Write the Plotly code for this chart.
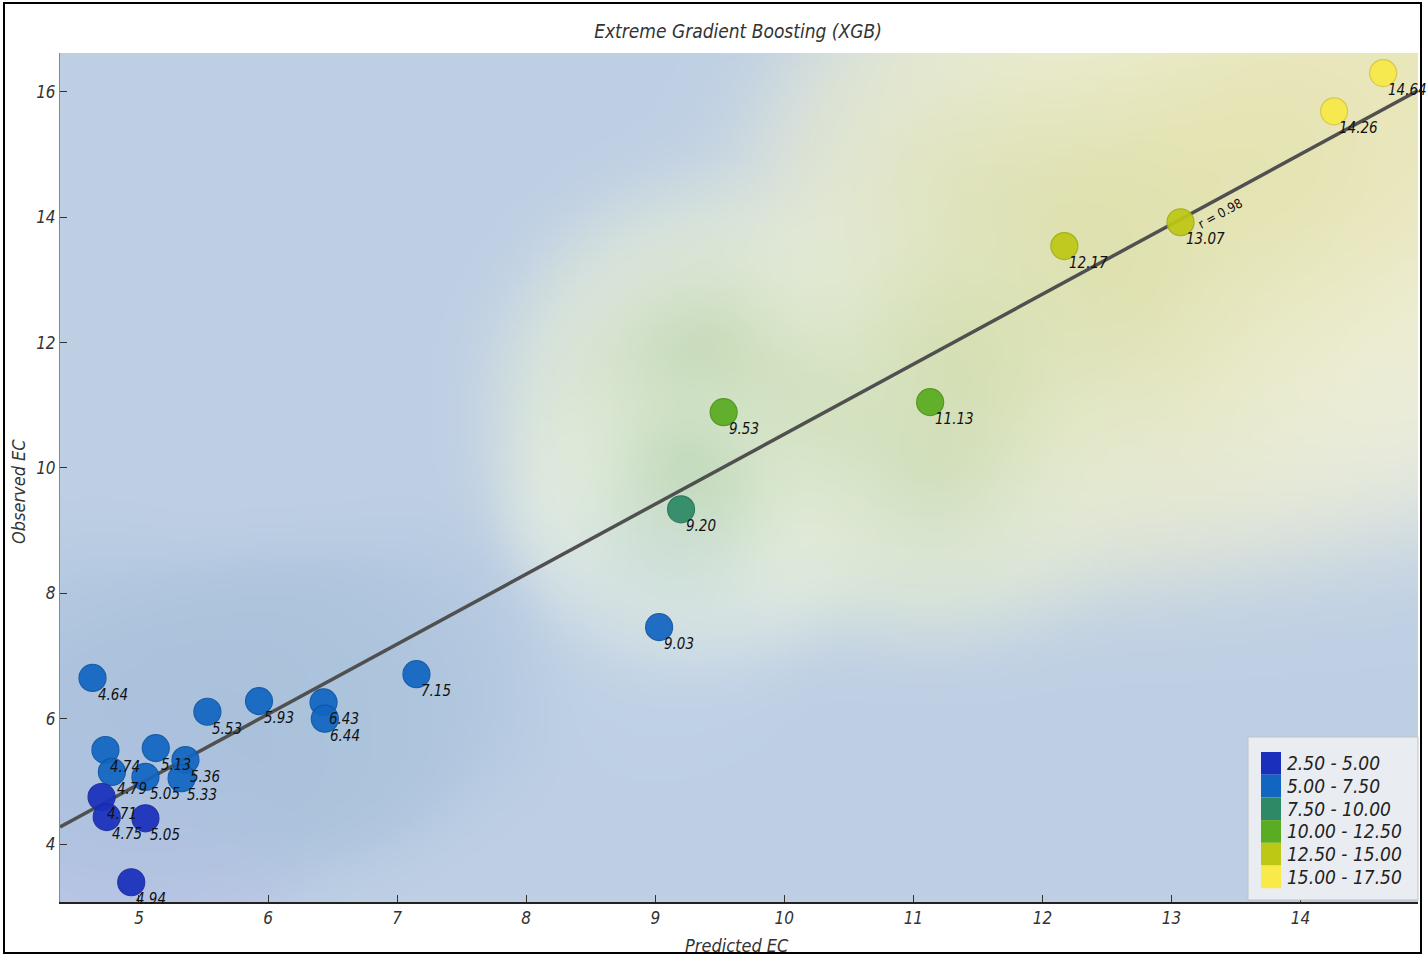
import numpy as np
import plotly.graph_objects as go

# ---------------- data ----------------
predicted = [4.64, 4.74, 4.79, 4.71, 4.75, 5.05, 5.05, 4.94, 5.13, 5.36, 5.33, 5.53,
             5.93, 6.43, 6.44, 7.15, 9.03, 9.20, 9.53, 11.13, 12.17, 13.07, 14.26, 14.64]
observed = [6.65, 5.50, 5.15, 4.75, 4.43, 5.07, 4.41, 3.39, 5.53, 5.34, 5.05, 6.11,
            6.28, 6.26, 6.00, 6.71, 7.46, 9.34, 10.89, 11.05, 13.54, 13.92, 15.69, 16.30]
point_labels = ["4.64", "4.74", "4.79", "4.71", "4.75", "5.05", "5.05", "4.94", "5.13", "5.36",
                "5.33", "5.53", "5.93", "6.43", "6.44", "7.15", "9.03", "9.20", "9.53", "11.13",
                "12.17", "13.07", "14.26", "14.64"]
bin_edges = [2.5, 5.0, 7.5, 10.0, 12.5, 15.0, 17.5]
bin_labels = ["2.50 - 5.00", "5.00 - 7.50", "7.50 - 10.00", "10.00 - 12.50",
              "12.50 - 15.00", "15.00 - 17.50"]
bin_colors = ["#1a30bc", "#1266c2", "#2e8a66", "#5aac22", "#bdc814", "#f8ea48"]
bin_edge_colors = ["#1a2aa0", "#0f56a6", "#267556", "#4a931c", "#a4ad10", "#d6c840"]
x_ticks = [5, 6, 7, 8, 9, 10, 11, 12, 13, 14]
y_ticks = [4, 6, 8, 10, 12, 14, 16]
x_range = [4.388, 14.91]
y_range = [3.075, 16.62]
# background shading: colour of the surface around a point of a given value
halo_stops = [(3.3, (208, 202, 238)), (4.5, (172, 193, 223)), (6.0, (166, 191, 217)),
              (7.0, (180, 201, 224)), (8.0, (205, 220, 236)), (9.3, (196, 224, 200)),
              (10.9, (180, 209, 142)), (12.5, (198, 208, 128)), (13.9, (206, 208, 112)),
              (15.0, (238, 234, 178)), (16.3, (240, 230, 168))]
bg_rgb = (190, 207, 228)
rim_rgb = (246, 247, 238)

# ---------------- layout geometry ----------------
W, H = 1428, 957
ML, MR, MT, MB = 60, 10, 53, 55
PW, PH = W - ML - MR, H - MT - MB
sx = PW / (x_range[1] - x_range[0])
sy = PH / (y_range[1] - y_range[0])

px_ = np.array(predicted)
ob_ = np.array(observed)

# ---------------- background surface: colour blend of smooth halos ----------------
NX, NY = 400, 260
dxg = (x_range[1] - x_range[0]) / NX
dyg = (y_range[1] - y_range[0]) / NY
gx = x_range[0] + dxg * (np.arange(NX) + 0.5)
gy = y_range[1] - dyg * (np.arange(NY) + 0.5)          # top row first
GX, GY = np.meshgrid(gx, gy)
hv = [s[0] for s in halo_stops]
hc = np.array([s[1] for s in halo_stops], dtype=float)

def halo_color(v):
    return np.array([np.interp(v, hv, hc[:, k]) for k in range(3)])

w0 = 0.4
acc = np.zeros(GX.shape + (3,))
wsum = np.full(GX.shape, w0)
acc += w0 * np.array(bg_rgb, dtype=float)
for xp, yp in zip(px_, ob_):
    L = 115.0 + 26.0 * max(yp - 9.3, 0.0)
    d = np.sqrt(((GX - xp) * sx) ** 2 + ((GY - yp) * sy) ** 2)
    w = np.exp(-(d / L) ** 3)
    acc += w[..., None] * halo_color(yp)
    wsum += w
    if yp >= 8.0:
        rim = 0.8 * 4.0 * w * (1.0 - w)
        acc += rim[..., None] * np.array(rim_rgb, dtype=float)
        wsum += rim
img = np.clip(np.round(acc / wsum[..., None]), 0, 255).astype(int)

# ---------------- regression ----------------
slope, intercept = np.polyfit(px_, ob_, 1)
r = np.corrcoef(px_, ob_)[0, 1]
lx = np.array(x_range)
ly = slope * lx + intercept

idx = np.clip(np.digitize(ob_, bin_edges) - 1, 0, len(bin_colors) - 1)
mcolors = [bin_colors[i] for i in idx]
lcolors = [bin_edge_colors[i] for i in idx]

FONT = "Liberation Sans Narrow, DejaVu Sans Condensed, DejaVu Sans"
fig = go.Figure()
fig.add_trace(go.Image(z=img.tolist(), x0=gx[0], dx=dxg, y0=gy[0], dy=-dyg,
                       zsmooth="fast", hoverinfo="skip", colormodel="rgb"))
fig.add_trace(go.Scatter(x=lx, y=ly, mode="lines", line=dict(color="#505050", width=3.5),
                         hoverinfo="skip", showlegend=False))
fig.add_trace(go.Scatter(x=predicted, y=observed, mode="markers",
                         marker=dict(size=27, color=mcolors, opacity=0.93,
                                     line=dict(color=lcolors, width=1.2)),
                         showlegend=False))

annotations = []
for xv, yv, t in zip(predicted, observed, point_labels):
    annotations.append(dict(x=xv, y=yv, xref="x", yref="y", text=t, showarrow=False,
                            xanchor="left", yanchor="middle", xshift=3, yshift=-17,
                            font=dict(family=FONT, size=15, color="#111", style="italic")))
ang = -np.degrees(np.arctan(slope * sy / sx))
rx = 13.33
annotations.append(dict(x=rx, y=slope * rx + intercept, xref="x", yref="y",
                        text=f"r = {r:.2f}", showarrow=False, textangle=ang,
                        xanchor="center", yanchor="middle", xshift=6, yshift=-12,
                        font=dict(family=FONT, size=13, color="#111")))

def pxx(p):
    return (p - ML) / PW
def pxy(p):
    return (H - MB - p) / PH

annotations.append(dict(x=pxx(18), y=pxy(492), xref="paper", yref="paper", text="Observed EC",
                        showarrow=False, textangle=-90, xanchor="center", yanchor="middle",
                        font=dict(family=FONT, size=18, color="#333", style="italic")))
annotations.append(dict(x=pxx(737), y=pxy(946), xref="paper", yref="paper", text="Predicted EC",
                        showarrow=False, xanchor="center", yanchor="middle",
                        font=dict(family=FONT, size=18, color="#333", style="italic")))

shapes = []
shapes.append(dict(type="rect", xref="paper", yref="paper", x0=pxx(1248), x1=pxx(1418),
                   y0=pxy(900), y1=pxy(737), fillcolor="rgb(233,236,240)",
                   line=dict(color="rgb(190,195,200)", width=1), layer="above"))
top = 752
hh = 22.7
for i, (lab, col) in enumerate(zip(bin_labels, bin_colors)):
    y0 = top + i * hh
    shapes.append(dict(type="rect", xref="paper", yref="paper", x0=pxx(1261), x1=pxx(1281),
                       y0=pxy(y0 + hh), y1=pxy(y0), fillcolor=col, line=dict(width=0),
                       layer="above"))
    annotations.append(dict(x=pxx(1285), y=pxy(y0 + hh / 2), xref="paper", yref="paper",
                            text=lab, showarrow=False, xanchor="left", yanchor="middle",
                            font=dict(family=FONT, size=19, color="#222", style="italic")))
shapes.append(dict(type="rect", xref="paper", yref="paper", x0=pxx(4), x1=pxx(1421),
                   y0=pxy(953), y1=pxy(3), line=dict(color="black", width=2), layer="above"))

fig.update_layout(
    width=W, height=H, margin=dict(l=ML, r=MR, t=MT, b=MB),
    paper_bgcolor="white", plot_bgcolor="white", showlegend=False,
    title=dict(text="Extreme Gradient Boosting (XGB)", x=(738 - ML) / PW, xref="paper",
               xanchor="center", y=1 - 31 / H, yanchor="middle",
               font=dict(family=FONT, size=19, color="#333", style="italic")),
    annotations=annotations, shapes=shapes,
)
fig.update_xaxes(range=x_range, autorange=False, tickvals=x_ticks, ticks="inside", ticklen=7,
                 tickcolor="#333", showgrid=False, zeroline=False, showline=True,
                 linecolor="#222", linewidth=2, constrain="range",
                 tickfont=dict(family=FONT, size=17, color="#333", style="italic"))
fig.update_yaxes(range=y_range, autorange=False, tickvals=y_ticks, ticks="inside", ticklen=7,
                 tickcolor="#333", showgrid=False, zeroline=False, showline=True,
                 linecolor="#888", linewidth=1, scaleanchor=False, constrain="range",
                 tickfont=dict(family=FONT, size=17, color="#333", style="italic"))

post = ("document.documentElement.style.overflow='hidden';"
        "document.body.style.margin='0';document.body.style.overflow='hidden';"
        "var g=document.getElementsByClassName('plotly-graph-div')[0];"
        "g.style.position='fixed';g.style.left='0px';g.style.top='0px';")
fig.write_html("out.html", config={"displayModeBar": False}, post_script=post)
